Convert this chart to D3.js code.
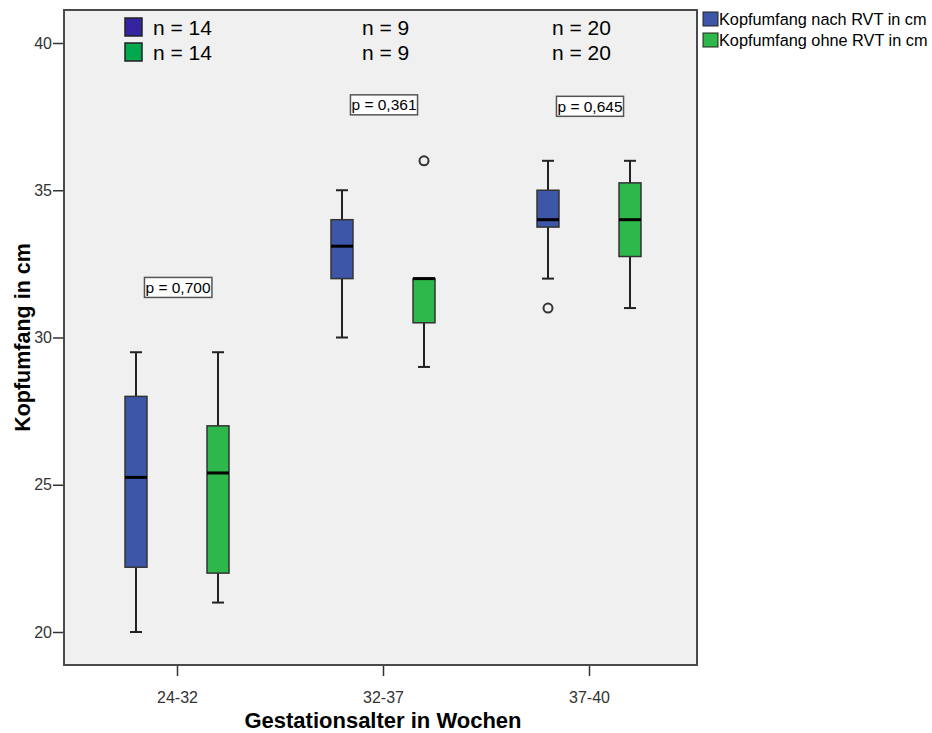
<!DOCTYPE html>
<html>
<head>
<meta charset="utf-8">
<script src="https://cdn.jsdelivr.net/npm/d3@7"></script>
<style>
	body { margin: 0; background: #fff; }
	svg { font-family: "Liberation Sans", Arial, sans-serif; }
</style>
</head>
<body>
<script>
// Data
const groups = ['24-32', '32-37', '37-40'];
const series = ['Kopfumfang nach RVT in cm', 'Kopfumfang ohne RVT in cm'];
const n_counts = [14, 9, 20];
const p_values = ['p = 0,700', 'p = 0,361', 'p = 0,645'];
const p_positions = [31.7, 37.9, 37.85];

// [min, q1, median, q3, max] per group
const stats_nach = [
	[20, 22.2, 25.25, 28, 29.5],
	[30, 32, 33.1, 34, 35],
	[32, 33.75, 34, 35, 36]
];
const stats_ohne = [
	[21, 22, 25.4, 27, 29.5],
	[29, 30.5, 32, 32, 32],
	[31, 32.75, 34, 35.25, 36]
];
const outliers_nach = [[], [], [31]];
const outliers_ohne = [[], [36], []];

const y_ticks = [20, 25, 30, 35, 40];

const colors = ['#3d56a8', '#2eb84b'];
const legend_colors = ['#3524a0', '#00a84f'];

const width = 932, height = 733;
const frame = {left: 64, right: 697, top: 10, bottom: 665};

const svg = d3.select('body').append('svg')
	.attr('width', width)
	.attr('height', height);

const x = d3.scalePoint().domain(groups).range([177, 589]);
const x_inner = d3.scaleBand().domain([0, 1]).range([-52, 52]).paddingInner(0.732);
const y = d3.scaleLinear().domain([20, 40]).range([632, 43]);

svg.append('rect')
	.attr('x', frame.left)
	.attr('y', frame.top)
	.attr('width', frame.right - frame.left)
	.attr('height', frame.bottom - frame.top)
	.attr('fill', '#f0f0f0')
	.attr('stroke', '#4a4a4a')
	.attr('stroke-width', 2);

// axes
const y_axis = svg.append('g')
	.attr('transform', `translate(${frame.left - 1},0)`)
	.call(d3.axisLeft(y).tickValues(y_ticks).tickSize(10).tickPadding(1));

const x_axis = svg.append('g')
	.attr('transform', `translate(0,${frame.bottom + 1})`)
	.call(d3.axisBottom(x).tickSize(10).tickPadding(16));

[y_axis, x_axis].forEach(axis => {
	axis.select('.domain').remove();
	axis.selectAll('line').attr('stroke', '#333').attr('stroke-width', 1.5);
	axis.selectAll('text')
		.attr('fill', '#333')
		.style('font-size', '16px')
		.style('font-family', '"Liberation Sans", Arial, sans-serif');
});

svg.append('text')
	.attr('transform', `translate(30,${(frame.top + frame.bottom) / 2}) rotate(-90)`)
	.attr('text-anchor', 'middle')
	.style('font-size', '21.5px')
	.style('font-weight', 'bold')
	.text('Kopfumfang in cm');

svg.append('text')
	.attr('x', x('32-37'))
	.attr('y', 728)
	.attr('text-anchor', 'middle')
	.style('font-size', '22px')
	.style('font-weight', 'bold')
	.text('Gestationsalter in Wochen');

// boxes
const all_stats = [stats_nach, stats_ohne];
const all_outliers = [outliers_nach, outliers_ohne];
const cap = 12;

all_stats.forEach((stats, s) => {
	const g = svg.append('g');
	stats.forEach((st, i) => {
		const bw = x_inner.bandwidth();
		const x0 = x(groups[i]) + x_inner(s);
		const cx = x0 + bw / 2;
		const [mn, q1, md, q3, mx] = st;

		g.append('line')
			.attr('x1', cx).attr('x2', cx)
			.attr('y1', y(mx)).attr('y2', y(mn))
			.attr('stroke', '#222').attr('stroke-width', 2);
		[mn, mx].forEach(v => {
			g.append('line')
				.attr('x1', cx - cap / 2).attr('x2', cx + cap / 2)
				.attr('y1', y(v)).attr('y2', y(v))
				.attr('stroke', '#222').attr('stroke-width', 2);
		});
		g.append('rect')
			.attr('x', x0)
			.attr('y', y(q3))
			.attr('width', bw)
			.attr('height', y(q1) - y(q3))
			.attr('fill', colors[s])
			.attr('stroke', '#333')
			.attr('stroke-width', 1.5);
		g.append('line')
			.attr('x1', x0).attr('x2', x0 + bw)
			.attr('y1', y(md)).attr('y2', y(md))
			.attr('stroke', '#000').attr('stroke-width', 3);

		all_outliers[s][i].forEach(v => {
			g.append('circle')
				.attr('cx', cx)
				.attr('cy', y(v))
				.attr('r', 4.5)
				.attr('fill', 'none')
				.attr('stroke', '#333')
				.attr('stroke-width', 2);
		});
	});
});

// p-value labels
p_values.forEach((p, i) => {
	const g = svg.append('g')
		.attr('transform', `translate(${x(groups[i]) + 1},${y(p_positions[i])})`);
	const t = g.append('text')
		.attr('text-anchor', 'middle')
		.attr('dy', '0.35em')
		.style('font-size', '15.5px')
		.text(p);
	const bb = t.node().getBBox();
	g.insert('rect', 'text')
		.attr('x', bb.x - 1)
		.attr('y', -10)
		.attr('width', bb.width + 2)
		.attr('height', 20)
		.attr('fill', '#fff')
		.attr('stroke', '#555')
		.attr('stroke-width', 1.5);
});

// n labels
const n_x = [153, 362, 552];
[0, 1].forEach(s => {
	const yy = 28 + s * 25;
	svg.append('rect')
		.attr('x', 125).attr('y', yy - 10)
		.attr('width', 17).attr('height', 18)
		.attr('fill', legend_colors[s])
		.attr('stroke', '#222').attr('stroke-width', 1.5);
	n_counts.forEach((n, i) => {
		svg.append('text')
			.attr('x', n_x[i])
			.attr('y', yy)
			.attr('dy', '0.35em')
			.style('font-size', '21px')
			.text('n = ' + n);
	});
});

// legend
series.forEach((name, s) => {
	const ly = 19 + s * 21;
	svg.append('rect')
		.attr('x', 703).attr('y', ly - 7)
		.attr('width', 15).attr('height', 14)
		.attr('fill', colors[s])
		.attr('stroke', '#222').attr('stroke-width', 1);
	svg.append('text')
		.attr('x', 719).attr('y', ly)
		.attr('dy', '0.35em')
		.style('font-size', '16.3px')
		.text(name);
});
</script>
</body>
</html>
